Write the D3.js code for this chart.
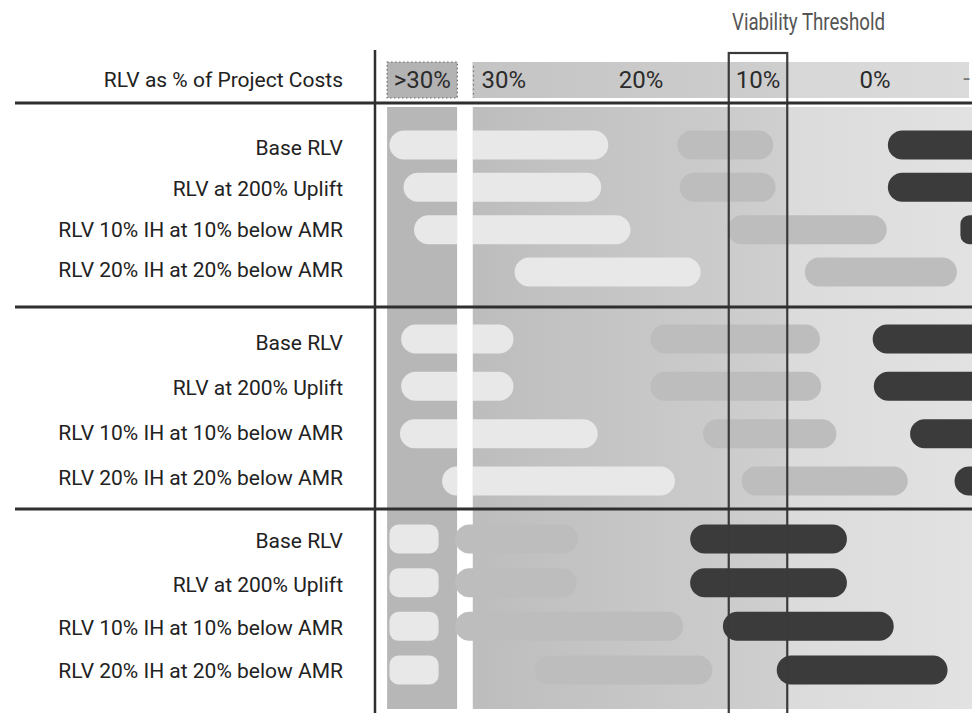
<!DOCTYPE html>
<html>
<head>
<meta charset="utf-8">
<script src="https://cdn.jsdelivr.net/npm/d3@7/dist/d3.min.js"></script>
<style>
  html, body { margin: 0; padding: 0; background: #fff; }
  svg { display: block; font-family: Roboto, "Noto Sans", sans-serif; }
</style>
</head>
<body>
<svg id="chart" width="972" height="713"></svg>
<script>
// Scenario rows (same four in every block)
const categories = [
  "Base RLV",
  "RLV at 200% Uplift",
  "RLV 10% IH at 10% below AMR",
  "RLV 20% IH at 20% below AMR"
];
const blocks = [1, 2, 3];

// RLV ranges, % of project costs, [high, low] per block and row
const lightRanges = [
  [[41.5, 22.8], [40.3, 23.4], [39.4, 20.9], [30.8, 14.9]],
  [[40.5, 30.9], [40.5, 30.9], [40.6, 23.7], [37.0, 17.1]],
  [[41.5, 37.3], [41.5, 37.3], [41.5, 37.3], [41.5, 37.3]]
];
const mediumRanges = [
  [[16.9, 8.7], [16.7, 8.5], [12.6, -1.0], [6.0, -7.0]],
  [[19.2, 4.7], [19.2, 4.6], [14.7, 3.3], [11.4, -2.8]],
  [[35.9, 25.4], [35.9, 25.5], [35.9, 16.4], [29.1, 13.9]]
];
const darkRanges = [
  [[-1.1, -12], [-1.1, -12], [-7.3, -12], null],
  [[0.2, -12], [0.1, -12], [-3.0, -12], [-6.8, -12]],
  [[15.8, 2.4], [15.8, 2.4], [13.0, -1.6], [8.4, -6.2]]
];

// Column bands and axis labels
const overBand = [41.7, 35.7];        // ">30%" column
const mainBand = [34.4, -10];         // continuous scale column
const thresholdBand = [12.5, 7.5];    // viability threshold around 10%
const tickValues = [20, 10, 0];
const tickLabels = ["20%", "10%", "0%"];
const overLabel = ">30%";
const startLabel = "30%";
const edgeLabel = "-";
const headerTitle = "RLV as % of Project Costs";
const thresholdTitle = "Viability Threshold";

const W = 972, H = 713;
const svg = d3.select("#chart");

const x = d3.scaleLinear().domain([30, 0]).range([524, 875]);

// vertical layout
const headerTop = 62, headerBottom = 98;
const bodyTop = 107, bodyBottom = 709;
const rowY = [
  d3.scalePoint().domain(categories).range([145, 272]),
  d3.scalePoint().domain(categories).range([339, 481]),
  d3.scalePoint().domain(categories).range([539, 670])
];
const labelY = [
  d3.scalePoint().domain(categories).range([148, 270]),
  d3.scalePoint().domain(categories).range([343, 478]),
  d3.scalePoint().domain(categories).range([541, 671])
];
const separators = [103, 307, 509];
const barH = 29;

const defs = svg.append("defs");
function grad(id, x1, x2, c1, c2) {
  const g = defs.append("linearGradient").attr("id", id)
    .attr("gradientUnits", "userSpaceOnUse")
    .attr("x1", x1).attr("x2", x2).attr("y1", 0).attr("y2", 0);
  g.append("stop").attr("offset", 0).attr("stop-color", c1);
  g.append("stop").attr("offset", 1).attr("stop-color", c2);
}
const xMainL = x(mainBand[0]);
const xThrL = x(thresholdBand[0]);
const xThrR = x(thresholdBand[1]);
grad("bodyLeft", xMainL, xThrR, "#bdbdbd", "#cfcfcf");
grad("bodyRight", xThrR, W, "#dbdbdb", "#e2e2e2");
grad("headLeft", xMainL, xThrR, "#c4c4c4", "#cecece");
grad("headRight", xThrR, W, "#d7d7d7", "#dbdbdb");

// ---- backgrounds ----
const bg = svg.append("g");
bg.append("rect").attr("x", x(overBand[0])).attr("width", x(overBand[1]) - x(overBand[0]))
  .attr("y", bodyTop).attr("height", bodyBottom - bodyTop).attr("fill", "#b7b7b7");
bg.append("rect").attr("x", xMainL).attr("width", xThrR - xMainL)
  .attr("y", bodyTop).attr("height", bodyBottom - bodyTop).attr("fill", "url(#bodyLeft)");
bg.append("rect").attr("x", xThrR).attr("width", W - xThrR)
  .attr("y", bodyTop).attr("height", bodyBottom - bodyTop).attr("fill", "url(#bodyRight)");

// header cells
bg.append("rect").attr("x", x(overBand[0])).attr("width", x(overBand[1]) - x(overBand[0]))
  .attr("y", headerTop).attr("height", headerBottom - headerTop)
  .attr("fill", "#b3b3b3").attr("stroke", "#6a6a6a").attr("stroke-width", 1.2)
  .attr("stroke-dasharray", "1.5,2.5");
bg.append("rect").attr("x", xMainL).attr("width", xThrR - xMainL)
  .attr("y", headerTop).attr("height", headerBottom - headerTop).attr("fill", "url(#headLeft)");
bg.append("rect").attr("x", xThrR).attr("width", W - 3 - xThrR)
  .attr("y", headerTop).attr("height", headerBottom - headerTop).attr("fill", "url(#headRight)");
bg.append("line").attr("x1", xMainL + 1).attr("x2", xMainL + 1)
  .attr("y1", headerTop + 4).attr("y2", headerBottom)
  .attr("stroke", "#777").attr("stroke-width", 1.2).attr("stroke-dasharray", "1.5,3");

// ---- bars ----
function barData(ranges, tone) {
  const out = [];
  ranges.forEach((rows, b) => rows.forEach((r, i) => {
    if (r) out.push({ block: b, cat: categories[i], hi: r[0], lo: r[1], tone });
  }));
  return out;
}
const tones = {
  light: "#e8e8e8",
  medium: "#bdbdbd",
  dark: "#3b3b3b"
};
function drawBars(data) {
  svg.append("g").selectAll("rect").data(data).join("rect")
    .attr("x", d => x(d.hi))
    .attr("width", d => x(d.lo) - x(d.hi))
    .attr("y", d => rowY[d.block](d.cat) - barH / 2)
    .attr("height", barH)
    .attr("rx", d => (x(d.lo) - x(d.hi)) < 60 ? 9 : barH / 2)
    .attr("fill", d => tones[d.tone]);
}
drawBars(barData(lightRanges, "light"));

// white gap between the ">30%" column and the scale
svg.append("rect").attr("x", x(overBand[1])).attr("width", xMainL - x(overBand[1]))
  .attr("y", bodyTop).attr("height", bodyBottom - bodyTop).attr("fill", "#fff");

drawBars(barData(mediumRanges, "medium"));
drawBars(barData(darkRanges, "dark"));

// ---- header labels ----
const head = svg.append("g").attr("font-size", 24).attr("fill", "#2b2b2b");
head.append("text").attr("x", (x(overBand[0]) + x(overBand[1])) / 2).attr("y", 88)
  .attr("text-anchor", "middle").text(overLabel);
head.append("text").attr("x", xMainL + 9).attr("y", 88).text(startLabel);
head.selectAll("text.tick").data(tickValues).join("text").attr("class", "tick")
  .attr("x", d => x(d)).attr("y", 88).attr("text-anchor", "middle")
  .text((d, i) => tickLabels[i]);
head.append("text").attr("x", W - 2).attr("y", 86).attr("text-anchor", "end")
  .attr("fill", "#777").text(edgeLabel);

// ---- threshold box ----
svg.append("rect").attr("x", xThrL).attr("width", xThrR - xThrL)
  .attr("y", 53).attr("height", H - 53 + 5)
  .attr("fill", "none").attr("stroke", "#3a3a3a").attr("stroke-width", 2.2);
svg.append("text").attr("x", 732).attr("y", 30)
  .attr("font-size", 24).attr("fill", "#555")
  .attr("textLength", 153).attr("lengthAdjust", "spacingAndGlyphs")
  .text(thresholdTitle);

// ---- frame lines ----
svg.append("line").attr("x1", 375).attr("x2", 375).attr("y1", 50).attr("y2", H)
  .attr("stroke", "#2f2f2f").attr("stroke-width", 2.5);
svg.selectAll("line.sep").data(separators).join("line").attr("class", "sep")
  .attr("x1", 15).attr("x2", W).attr("y1", d => d).attr("y2", d => d)
  .attr("stroke", "#2f2f2f").attr("stroke-width", 3);

// ---- row labels ----
const lab = svg.append("g").attr("font-size", 21).attr("fill", "#222").attr("text-anchor", "end");
lab.append("text").attr("x", 343).attr("y", 80).attr("dy", "0.35em").text(headerTitle);
blocks.forEach((b, bi) => {
  lab.append("g").selectAll("text").data(categories).join("text")
    .attr("x", 343).attr("y", d => labelY[bi](d)).attr("dy", "0.35em").text(d => d);
});
</script>
</body>
</html>
